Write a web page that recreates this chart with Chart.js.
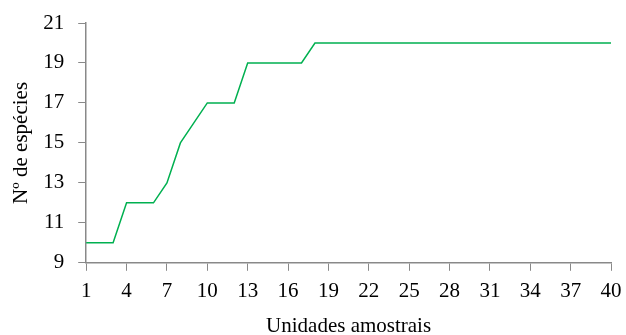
<!DOCTYPE html>
<html>
<head>
<meta charset="utf-8">
<script src="https://cdn.jsdelivr.net/npm/chart.js@4"></script>
<style>
  html, body { margin: 0; padding: 0; background: #fff; }
  #wrap { width: 626px; height: 335px; }
</style>
</head>
<body>
<div id="wrap"><canvas id="chart"></canvas></div>
<script>
// Sample units 1..40 and accumulated species count
const unidades = [1, 2, 3, 4, 5, 6, 7, 8, 9, 10, 11, 12, 13, 14, 15, 16, 17, 18, 19, 20,
                  21, 22, 23, 24, 25, 26, 27, 28, 29, 30, 31, 32, 33, 34, 35, 36, 37, 38, 39, 40];
const especies = [10, 10, 10, 12, 12, 12, 13, 15, 16, 17, 17, 17, 19, 19, 19, 19, 19, 20, 20, 20,
                  20, 20, 20, 20, 20, 20, 20, 20, 20, 20, 20, 20, 20, 20, 20, 20, 20, 20, 20, 20];
const xTickStep = 3;

const axisColor = '#898989';
const serif = "'Liberation Serif', 'Times New Roman', serif";

const ctx = document.getElementById('chart').getContext('2d');
new Chart(ctx, {
    type: 'line',
    data: {
        labels: unidades,
        datasets: [{
            data: especies,
            borderColor: '#00B050',
            borderWidth: 1.5,
            pointRadius: 0,
            tension: 0,
            fill: false
        }]
    },
    options: {
        responsive: true,
        maintainAspectRatio: false,
        animation: false,
        layout: { padding: { top: 10, right: 6, left: 9, bottom: -2 } },
        plugins: {
            legend: { display: false },
            tooltip: { enabled: false }
        },
        scales: {
            x: {
                type: 'category',
                offset: false,
                afterBuildTicks: function(scale) {
                    // keep every 3rd unit: 1, 4, 7, ... 40
                    scale.ticks = scale.ticks.filter(t => t.value % xTickStep === 0);
                },
                afterFit: function(scale) {
                    // tick padding would otherwise widen the right margin
                    scale.paddingRight = 15;
                },
                ticks: {
                    autoSkip: false,
                    maxRotation: 0,
                    color: '#000',
                    padding: 8,
                    font: { family: serif, size: 21 }
                },
                grid: {
                    drawOnChartArea: false,
                    drawTicks: true,
                    tickLength: 8,
                    color: axisColor
                },
                border: { color: axisColor, width: 1.5 },
                title: {
                    display: true,
                    text: 'Unidades amostrais',
                    color: '#000',
                    padding: { top: 4, bottom: 0 },
                    font: { family: serif, size: 21, lineHeight: 1.0 }
                }
            },
            y: {
                min: 9,
                max: 21,
                afterFit: function(scale) {
                    scale.paddingTop = 23;
                },
                ticks: {
                    stepSize: 2,
                    color: '#000',
                    padding: 14,
                    font: { family: serif, size: 21 }
                },
                grid: {
                    drawOnChartArea: false,
                    drawTicks: true,
                    tickLength: 8,
                    color: axisColor
                },
                border: { color: axisColor, width: 1.5 },
                title: {
                    display: true,
                    text: 'Nº de espécies',
                    color: '#000',
                    padding: { top: 0, bottom: -5 },
                    font: { family: serif, size: 21 }
                }
            }
        }
    }
});
</script>
</body>
</html>
